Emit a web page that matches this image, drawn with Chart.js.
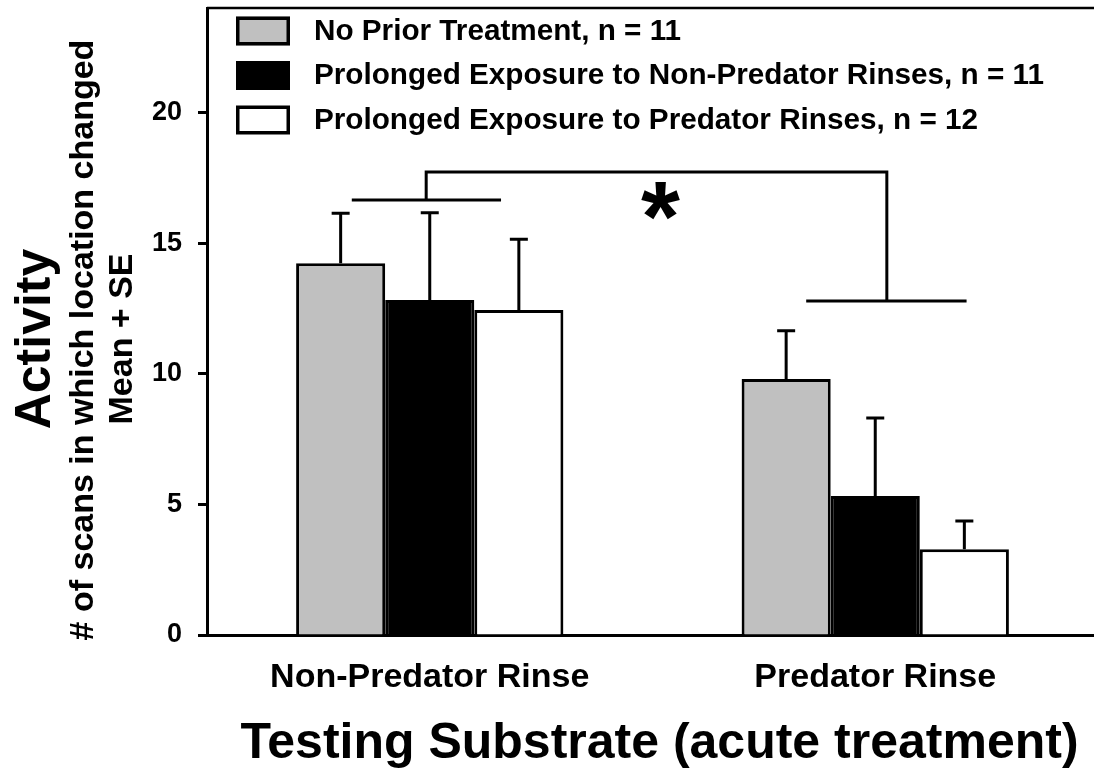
<!DOCTYPE html>
<html>
<head>
<meta charset="utf-8">
<script src="https://cdn.jsdelivr.net/npm/chart.js@4.4.1/dist/chart.umd.min.js"></script>
<style>
  html, body { margin: 0; padding: 0; background: #fff; overflow: hidden; }
  #wrap { width: 1098px; height: 769px; }
</style>
</head>
<body>
<div id="wrap"><canvas id="chart" width="1098" height="769"></canvas></div>
<script>
const categories = ['Non-Predator Rinse', 'Predator Rinse'];
const seriesNames = [
  'No Prior Treatment, n = 11',
  'Prolonged Exposure to Non-Predator Rinses, n = 11',
  'Prolonged Exposure to Predator Rinses, n = 12'
];
const noPriorMeans = [14.23, 9.80];
const noPriorSE = [1.91, 1.85];
const nonPredatorMeans = [12.82, 5.32];
const nonPredatorSE = [3.34, 2.99];
const predatorMeans = [12.44, 3.28];
const predatorSE = [2.71, 1.08];
const yTicks = [0, 5, 10, 15, 20];
const yMax = 24;

const FONT = '"Liberation Sans", Arial, Helvetica, sans-serif';

// bracket for the main-effect comparison, in axis units (x = category index)
const bracketLeft = {x0: -0.175, x1: 0.16, y: 16.65};
const bracketTop = {x0: -0.008, x1: 1.026, y: 17.72};
const bracketRight = {x0: 0.845, x1: 1.205, y: 12.78};
const starAt = {x: 0.518, y: 16.6};

const errorBars = {
  id: 'errorBars',
  afterDatasetsDraw(chart) {
    const {ctx} = chart;
    const y = chart.scales.y;
    ctx.save();
    ctx.strokeStyle = '#000';
    ctx.lineWidth = 3;
    chart.data.datasets.forEach((ds, i) => {
      chart.getDatasetMeta(i).data.forEach((bar, j) => {
        const base = y.getPixelForValue(ds.data[j]);
        const top = y.getPixelForValue(ds.data[j] + ds.se[j]);
        ctx.beginPath();
        ctx.moveTo(bar.x, base);
        ctx.lineTo(bar.x, top);
        ctx.moveTo(bar.x - 9, top);
        ctx.lineTo(bar.x + 9, top);
        ctx.stroke();
      });
    });
    ctx.restore();
  }
};

const annotations = {
  id: 'annotations',
  afterDraw(chart) {
    const {ctx, chartArea} = chart;
    const x = chart.scales.x;
    const y = chart.scales.y;
    const px = (v) => x.getPixelForValue(v);
    const py = (v) => y.getPixelForValue(v);
    ctx.save();
    ctx.strokeStyle = '#000';
    ctx.fillStyle = '#000';

    // top frame line
    ctx.lineWidth = 2.5;
    ctx.beginPath();
    ctx.moveTo(chartArea.left, chartArea.top);
    ctx.lineTo(chartArea.right, chartArea.top);
    ctx.stroke();

    // significance bracket
    ctx.lineWidth = 3;
    ctx.beginPath();
    ctx.moveTo(px(bracketLeft.x0), py(bracketLeft.y));
    ctx.lineTo(px(bracketLeft.x1), py(bracketLeft.y));
    ctx.moveTo(px(bracketTop.x0), py(bracketLeft.y));
    ctx.lineTo(px(bracketTop.x0), py(bracketTop.y));
    ctx.lineTo(px(bracketTop.x1), py(bracketTop.y));
    ctx.lineTo(px(bracketTop.x1), py(bracketRight.y));
    ctx.moveTo(px(bracketRight.x0), py(bracketRight.y));
    ctx.lineTo(px(bracketRight.x1), py(bracketRight.y));
    ctx.stroke();

    ctx.font = 'bold 100px ' + FONT;
    ctx.textAlign = 'center';
    ctx.textBaseline = 'alphabetic';
    const m = ctx.measureText('*');
    const mid = (m.actualBoundingBoxAscent - m.actualBoundingBoxDescent) / 2;
    ctx.fillText('*', px(starAt.x), py(starAt.y) + mid);

    // legend
    ctx.textAlign = 'left';
    ctx.font = 'bold 29.7px ' + FONT;
    chart.data.datasets.forEach((ds, i) => {
      const top = 16.5 + i * 44.5;
      ctx.fillStyle = ds.backgroundColor;
      ctx.fillRect(236, top, 54, 29);
      ctx.lineWidth = 3.5;
      ctx.strokeStyle = '#000';
      ctx.strokeRect(237.75, top + 1.75, 50.5, 25.5);
      ctx.fillStyle = '#000';
      ctx.fillText(ds.label, 314, top + 23);
    });

    // axis titles
    ctx.textAlign = 'center';
    ctx.font = 'bold 50px ' + FONT;
    ctx.fillText('Testing Substrate (acute treatment)', 659.5, 758);

    const vText = (text, font, bx, cy) => {
      ctx.save();
      ctx.translate(bx, cy);
      ctx.rotate(-Math.PI / 2);
      ctx.font = font;
      ctx.fillText(text, 0, 0);
      ctx.restore();
    };
    vText('Activity', 'bold 50px ' + FONT, 50, 339);
    vText('# of scans in which location changed', 'bold 34px ' + FONT, 93, 340);
    vText('Mean + SE', 'bold 34px ' + FONT, 132, 339);
    ctx.restore();
  }
};

const ctx = document.getElementById('chart').getContext('2d');
new Chart(ctx, {
  type: 'bar',
  data: {
    labels: categories,
    datasets: [
      {label: seriesNames[0], data: noPriorMeans, se: noPriorSE, backgroundColor: '#c0c0c0'},
      {label: seriesNames[1], data: nonPredatorMeans, se: nonPredatorSE, backgroundColor: '#000000'},
      {label: seriesNames[2], data: predatorMeans, se: predatorSE, backgroundColor: '#ffffff'}
    ].map(ds => Object.assign(ds, {
      borderColor: '#000',
      borderWidth: 3,
      borderSkipped: 'start',
      barPercentage: 1,
      categoryPercentage: 0.6
    }))
  },
  options: {
    responsive: false,
    devicePixelRatio: 1,
    animation: false,
    layout: {padding: {top: 8, left: 0, right: 0, bottom: 0}},
    plugins: {
      legend: {display: false},
      tooltip: {enabled: false}
    },
    scales: {
      x: {
        ticks: {
          color: '#000',
          padding: 22,
          font: {size: 34, weight: 'bold', family: FONT}
        },
        grid: {display: false, drawTicks: false},
        border: {display: true, color: '#000', width: 3},
        afterFit: (s) => {
          s.height = 134;
          s.paddingLeft = 0;
          s.paddingRight = 0;
        }
      },
      y: {
        min: 0,
        max: yMax,
        afterBuildTicks: (s) => { s.ticks = yTicks.map(v => ({value: v})); },
        ticks: {
          color: '#000',
          padding: 16,
          font: {size: 27, weight: 'bold', family: FONT}
        },
        grid: {
          drawOnChartArea: false,
          drawTicks: true,
          tickLength: 9,
          tickWidth: 3,
          tickColor: '#000'
        },
        border: {display: true, color: '#000', width: 3},
        afterFit: (s) => {
          s.width = 207;
          s.paddingTop = 0;
          s.paddingBottom = 0;
        }
      }
    }
  },
  plugins: [errorBars, annotations]
});
</script>
</body>
</html>
